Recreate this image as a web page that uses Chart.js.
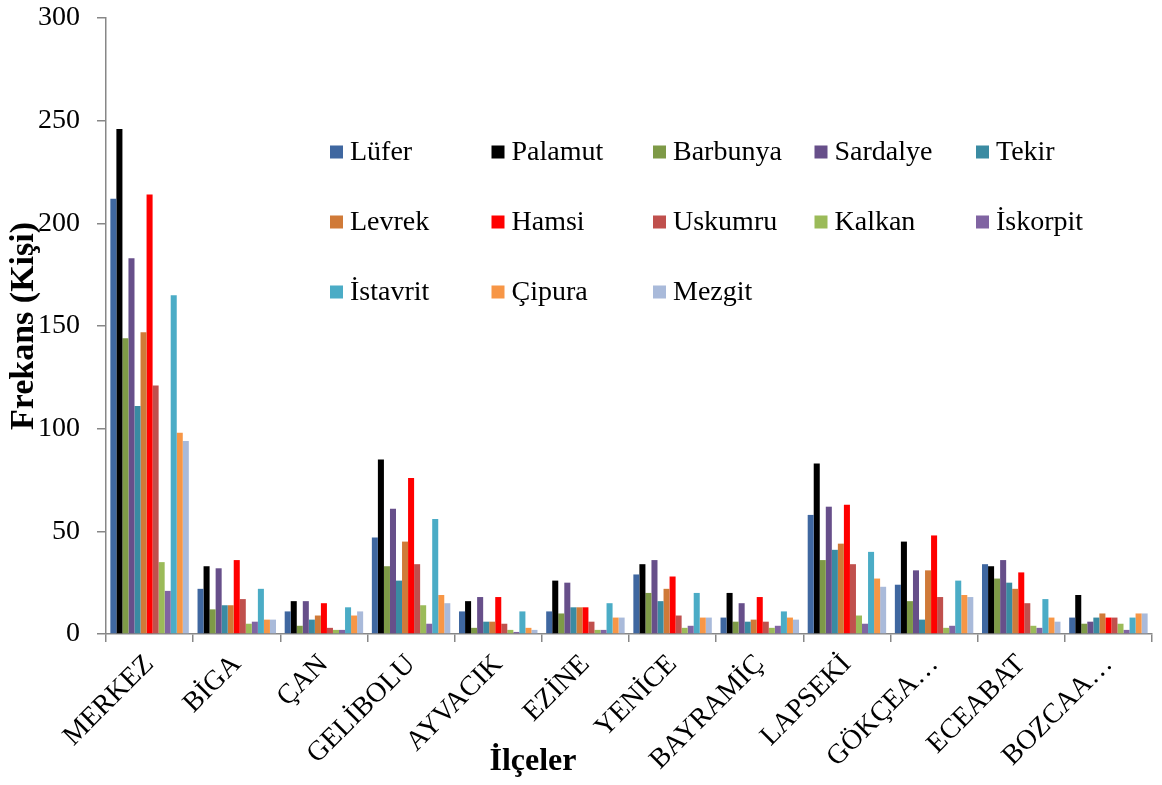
<!DOCTYPE html>
<html>
<head>
<meta charset="utf-8">
<script src="https://cdn.jsdelivr.net/npm/chart.js@4.4.1/dist/chart.umd.min.js"></script>
<style>
  html, body { margin: 0; padding: 0; background: #ffffff; }
  #wrap { width: 1162px; height: 785px; }
</style>
</head>
<body>
<div id="wrap"><canvas id="chart" width="1162" height="785"></canvas></div>
<script>
// Districts (x-axis categories)
const districts = ['MERKEZ', 'BİGA', 'ÇAN', 'GELİBOLU', 'AYVACIK', 'EZİNE', 'YENİCE',
                   'BAYRAMİÇ', 'LAPSEKİ', 'GÖKÇEA…', 'ECEABAT', 'BOZCAA…'];

// Fish species (series names)
const species = ['Lüfer', 'Palamut', 'Barbunya', 'Sardalye', 'Tekir', 'Levrek', 'Hamsi',
                 'Uskumru', 'Kalkan', 'İskorpit', 'İstavrit', 'Çipura', 'Mezgit'];

// Frequency (number of people) per district
const lufer    = [212, 22, 11, 47, 11, 11, 29,  8, 58, 24, 34,  8];
const palamut  = [246, 33, 16, 85, 16, 26, 34, 20, 83, 45, 33, 19];
const barbunya = [144, 12,  4, 33,  3, 10, 20,  6, 36, 16, 27,  5];
const sardalye = [183, 32, 16, 61, 18, 25, 36, 15, 62, 31, 36,  6];
const tekir    = [111, 14,  7, 26,  6, 13, 16,  6, 41,  7, 25,  8];
const levrek   = [147, 14,  9, 45,  6, 13, 22,  7, 44, 31, 22, 10];
const hamsi    = [214, 36, 15, 76, 18, 13, 28, 18, 63, 48, 30,  8];
const uskumru  = [121, 17,  3, 34,  5,  6,  9,  6, 34, 18, 15,  8];
const kalkan   = [ 35,  5,  2, 14,  2,  2,  3,  3,  9,  3,  4,  5];
const iskorpit = [ 21,  6,  2,  5,  1,  2,  4,  4,  5,  4,  3,  2];
const istavrit = [165, 22, 13, 56, 11, 15, 20, 11, 40, 26, 17,  8];
const cipura   = [ 98,  7,  9, 19,  3,  8,  8,  8, 27, 19,  8, 10];
const mezgit   = [ 94,  7, 11, 15,  2,  8,  8,  7, 23, 18,  6, 10];

const seriesValues = [lufer, palamut, barbunya, sardalye, tekir, levrek, hamsi,
                      uskumru, kalkan, iskorpit, istavrit, cipura, mezgit];

const seriesColors = ['#3F67A0', '#000000', '#7E9A47', '#674F8A', '#3A8BA2', '#D07A38', '#FF0000',
                      '#C0504D', '#9BBB59', '#8064A2', '#4BACC6', '#F79646', '#A9BADA'];

// Value axis ticks
const yTicks = [0, 50, 100, 150, 200, 250, 300];

const axisTitleX = 'İlçeler';
const axisTitleY = 'Frekans (Kişi)';

const SERIF = "'Liberation Serif', 'Times New Roman', serif";
const AXIS_GREY = '#878787';

// Legend laid out as a 5-column grid inside the plot area
const gridLegend = {
  id: 'gridLegend',
  afterDraw(chart) {
    const ctx = chart.ctx;
    const cols = 5, x0 = 330, colStep = 161.5, y0 = 152, rowStep = 70, box = 13;
    ctx.save();
    ctx.font = '28px ' + SERIF;
    ctx.textBaseline = 'middle';
    ctx.textAlign = 'left';
    chart.data.datasets.forEach((ds, i) => {
      const x = x0 + (i % cols) * colStep;
      const y = y0 + Math.floor(i / cols) * rowStep;
      ctx.fillStyle = ds.backgroundColor;
      ctx.fillRect(x, y - box / 2, box, box);
      ctx.fillStyle = '#000000';
      ctx.fillText(ds.label, x + 20, y + 1);
    });
    ctx.restore();
  }
};

// Category axis title, placed below the rotated district names
const xAxisTitle = {
  id: 'xAxisTitle',
  afterDraw(chart) {
    const ctx = chart.ctx;
    ctx.save();
    ctx.font = 'bold 32px ' + SERIF;
    ctx.fillStyle = '#000000';
    ctx.textAlign = 'center';
    ctx.textBaseline = 'middle';
    ctx.fillText(axisTitleX, 533, 762);
    ctx.restore();
  }
};

new Chart(document.getElementById('chart'), {
  type: 'bar',
  data: {
    labels: districts,
    datasets: species.map((name, i) => ({
      label: name,
      data: seriesValues[i],
      backgroundColor: seriesColors[i],
      borderWidth: 0,
      categoryPercentage: 0.9,
      barPercentage: 1.0
    }))
  },
  options: {
    responsive: false,
    animation: false,
    devicePixelRatio: 1,
    layout: { padding: { top: 18, right: 10, left: 0, bottom: 0 } },
    plugins: {
      legend: { display: false },
      tooltip: { enabled: false }
    },
    scales: {
      x: {
        afterFit(scale) { scale.height = 151; },
        grid: {
          display: true,
          drawOnChartArea: false,
          offset: true,
          tickLength: 8,
          color: AXIS_GREY,
          lineWidth: 1.5
        },
        border: { color: AXIS_GREY, width: 1.5 },
        ticks: {
          autoSkip: false,
          minRotation: 45,
          maxRotation: 45,
          padding: 6,
          color: '#000000',
          font: { family: SERIF, size: 28 }
        }
      },
      y: {
        min: 0,
        max: 300,
        afterFit(scale) {
          scale.width = 106;
          scale.paddingTop = 0;
          scale.paddingBottom = 0;
        },
        afterBuildTicks(scale) { scale.ticks = yTicks.map(v => ({ value: v })); },
        grid: {
          display: true,
          drawOnChartArea: false,
          tickLength: 9,
          color: AXIS_GREY,
          lineWidth: 1.5
        },
        border: { color: AXIS_GREY, width: 1.5 },
        ticks: {
          padding: 17,
          color: '#000000',
          font: { family: SERIF, size: 28 }
        },
        title: {
          display: true,
          text: axisTitleY,
          color: '#000000',
          font: { family: SERIF, size: 34, weight: 'bold' },
          padding: { top: 4, bottom: 0 }
        }
      }
    }
  },
  plugins: [gridLegend, xAxisTitle]
});
</script>
</body>
</html>
